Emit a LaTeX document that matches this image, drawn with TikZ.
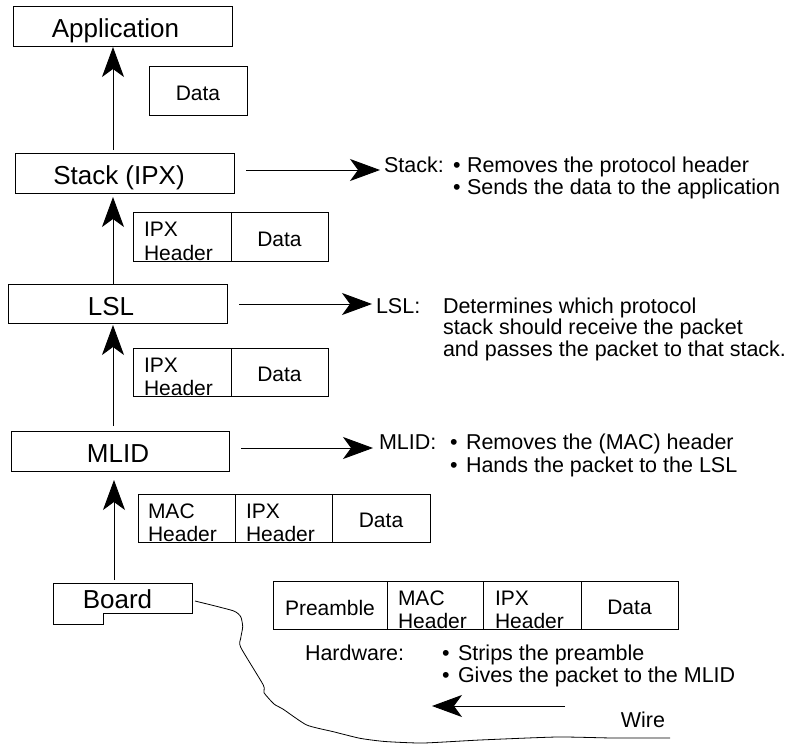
\documentclass[tikz,border=0pt]{standalone}
\usepackage{fontspec}
\setmainfont{Liberation Sans}
\usetikzlibrary{arrows.meta,calc}
\begin{document}
\begin{tikzpicture}[x=1pt,y=-1pt,
  every node/.style={inner sep=0pt, outer sep=0pt},
  lay/.style={draw, line width=0.9pt, anchor=north west},
  cell/.style={draw, line width=0.9pt, anchor=north west, minimum height=48pt},
  big/.style={font=\fontsize{26}{30}\selectfont, anchor=base},
  side/.style={font=\fontsize{21.5}{25}\selectfont, anchor=base west},
  sm/.style={font=\fontsize{21}{24}\selectfont},
  smw/.style={font=\fontsize{21}{24}\selectfont, anchor=base west},
  arr/.style={line width=0.9pt, -{Stealth[length=30pt,width=22pt,inset=8pt]}},
  wire/.style={line width=0.8pt},
]
\useasboundingbox (0,0) rectangle (793,745);

% layer boxes
\node[lay, minimum width=219pt, minimum height=40pt] (app) at (13,6) {};
\node[big] (tapp) at (115.5,37) {Application};
\node[lay, minimum width=219pt, minimum height=40pt] (stack) at (15,153) {};
\node[big] (tstack) at (119,184) {Stack (IPX)};
\node[lay, minimum width=219pt, minimum height=39pt] (lsl) at (8,284) {};
\node[big] (tlsl) at (111,315) {LSL};
\node[lay, minimum width=218pt, minimum height=40pt] (mlid) at (11,431) {};
\node[big] (tmlid) at (118,462.5) {MLID};

% board
\node[minimum width=139pt, minimum height=30pt, anchor=north west] (board) at (53,583) {};
\draw[line width=0.9pt] (board.north west) -- (board.north east) -- (board.south east)
  -- ($(board.south west)+(50,0)$) -- ++(0,11) -- ($(board.south west)+(0,11)$) -- cycle;
\node[big] (tboard) at (117.5,608) {Board};

% data box
\node[cell, minimum width=98pt, minimum height=49pt] (d0) at (149,66) {};
\node[sm] at ($(d0.center)+(0,2.5)$) {Data};

% IPX packet 1
\node[cell, minimum width=98pt, minimum height=49pt] (i1h) at (133,212) {};
\node[cell, minimum width=97pt, minimum height=49pt] (i1d) at (231,212) {};
\node[smw] at (144,236) {IPX};
\node[smw] at (144,260) {Header};
\node[sm] at ($(i1d.center)+(0,2.5)$) {Data};

% IPX packet 2
\node[cell, minimum width=98pt] (i2h) at (133,348) {};
\node[cell, minimum width=97pt] (i2d) at (231,348) {};
\node[smw] at (144,372) {IPX};
\node[smw] at (144,395) {Header};
\node[sm] at ($(i2d.center)+(0,2.5)$) {Data};

% MAC packet
\node[cell, minimum width=97pt] (m1) at (138,494) {};
\node[cell, minimum width=97pt] (m2) at (235,494) {};
\node[cell, minimum width=98pt] (m3) at (332,494) {};
\node[smw] at (148,518) {MAC};
\node[smw] at (148,541) {Header};
\node[smw] at (246,518) {IPX};
\node[smw] at (246,541) {Header};
\node[sm] at ($(m3.center)+(0,2.5)$) {Data};

% hardware packet
\node[cell, minimum width=114pt] (h1) at (273,581) {};
\node[cell, minimum width=96pt] (h2) at (387,581) {};
\node[cell, minimum width=98pt] (h3) at (483,581) {};
\node[cell, minimum width=97pt] (h4) at (581,581) {};
\node[sm] at ($(h1.center)+(0,2.5)$) {Preamble};
\node[smw] at (398,605) {MAC};
\node[smw] at (398,628) {Header};
\node[smw] at (495,605) {IPX};
\node[smw] at (495,628) {Header};
\node[sm] at ($(h4.center)+(0,2.5)$) {Data};

% side texts
\node[side] (sstack) at (384,172) {Stack:};
\node[side] at (453,172) {•};
\node[side] at (467,172) {Removes the protocol header};
\node[side] at (453,194) {•};
\node[side] at (467,194) {Sends the data to the application};

\node[side] (slsl) at (376,313) {LSL:};
\node[side] at (443,313) {Determines which protocol};
\node[side] at (443,334.5) {stack should receive the packet};
\node[side] at (443,356) {and passes the packet to that stack.};

\node[side] (smlid) at (379,449) {MLID:};
\node[side] at (450,449) {•};
\node[side] at (466,449) {Removes the (MAC) header};
\node[side] at (450,472) {•};
\node[side] at (466,472) {Hands the packet to the LSL};

\node[side] (shw) at (305,660) {Hardware:};
\node[side] at (442,660) {•};
\node[side] at (458,660) {Strips the preamble};
\node[side] at (442,682) {•};
\node[side] at (458,682) {Gives the packet to the MLID};

\node[side, anchor=base] (twire) at (643,727) {Wire};

% vertical arrows
\coordinate (xa) at (113,0);
\coordinate (xb) at (114,0);
\draw[arr] ($(stack.north -| xa)+(0,-3)$) -- ($(app.south -| xa)+(0,1)$);
\draw[arr] (lsl.north -| xa) -- ($(stack.south -| xa)+(0,4)$);
\draw[arr] ($(mlid.north -| xa)+(0,-5)$) -- ($(lsl.south -| xa)+(0,2)$);
\draw[arr] ($(board.north -| xb)+(0,-3)$) -- ($(mlid.south -| xb)+(0,9)$);

% horizontal arrows
\draw[arr] ($(stack.east)+(12,-3)$) -- ($(stack.east -| sstack.west)+(-4,-3)$);
\draw[arr] ($(lsl.east)+(12,0.5)$) -- ($(lsl.east -| slsl.west)+(-4,0.5)$);
\draw[arr] ($(mlid.east)+(12,-3)$) -- ($(mlid.east -| smlid.west)+(-6,-3)$);

% wire
\coordinate (wa) at (565,706);
\coordinate (wb) at (432,706);
\draw[arr] (wa) -- (wb);
\draw[wire] plot[smooth, tension=0.35] coordinates {
  (195,601) (233,610.7) (240.7,616.7) (242.7,626.7) (240.7,638.3) (240.7,647.3)
  (263.3,685) (264,692.7) (274,704) (283.3,709.3) (306.7,725) (333.3,731.7)
  (360,738.3) (385,741.5) (423,743) (480,740) (557,737) (613,738) (670,738)};
\end{tikzpicture}
\end{document}
